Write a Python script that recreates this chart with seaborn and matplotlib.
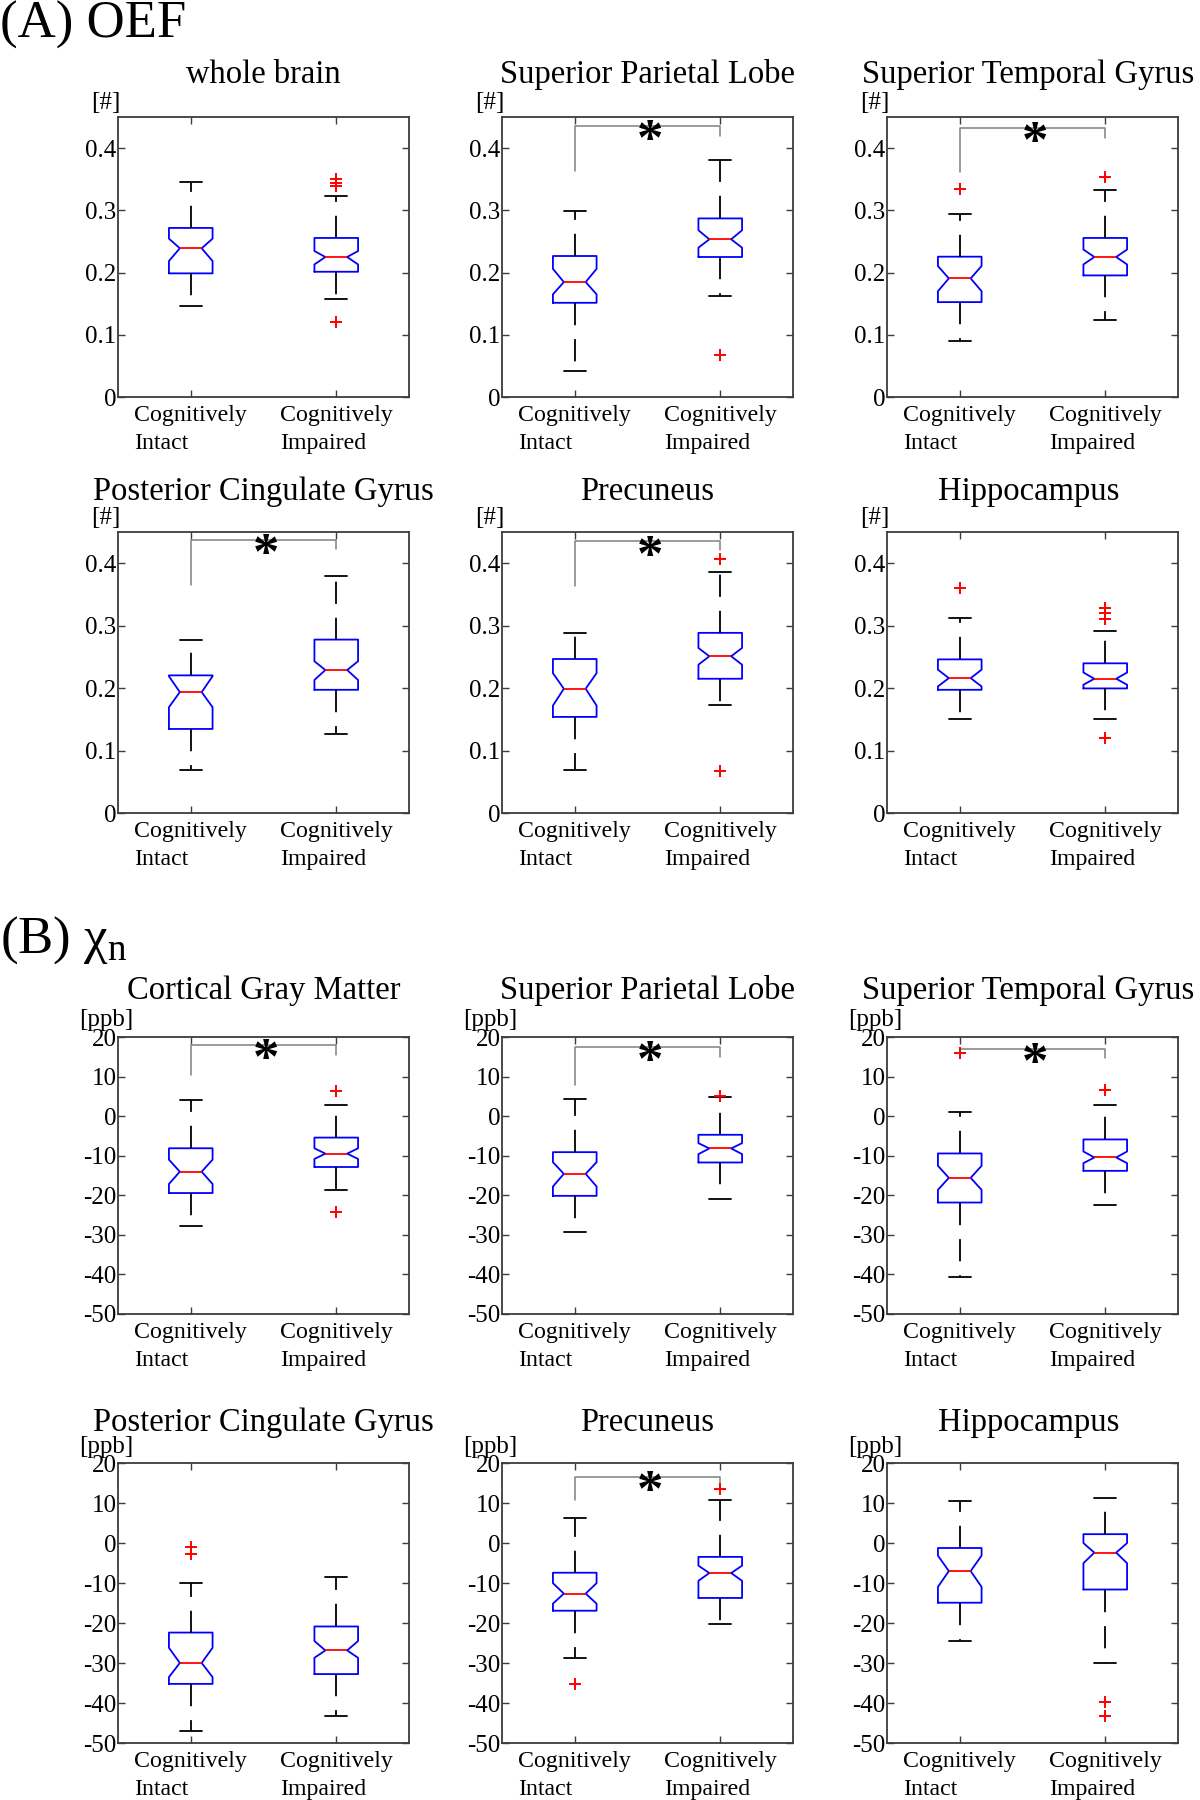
import matplotlib
matplotlib.use("Agg")
import matplotlib.pyplot as plt
import seaborn as sns

# ---------------- data ----------------
titles = ["whole brain", "Superior Parietal Lobe", "Superior Temporal Gyrus",
          "Posterior Cingulate Gyrus", "Precuneus", "Hippocampus",
          "Cortical Gray Matter", "Superior Parietal Lobe", "Superior Temporal Gyrus",
          "Posterior Cingulate Gyrus", "Precuneus", "Hippocampus"]
units = ["[#]"] * 6 + ["[ppb]"] * 6
group_labels = ["Cognitively\nIntact", "Cognitively\nImpaired"]
oef_ticks = [0, 0.1, 0.2, 0.3, 0.4]
oef_ticklabels = ["0", "0.1", "0.2", "0.3", "0.4"]
chi_ticks = [-50, -40, -30, -20, -10, 0, 10, 20]
chi_ticklabels = ["-50", "-40", "-30", "-20", "-10", "0", "10", "20"]

# Cognitively intact group
int_whislo = [0.146, 0.0413, 0.0907, 0.0686, 0.0686, 0.1507,
              -27.88, -29.34, -40.72, -47.04, -28.63, -24.4]
int_q1 = [0.1987, 0.1514, 0.1525, 0.1346, 0.1539, 0.1973,
          -19.43, -20.14, -21.83, -35.22, -16.93, -14.93]
int_cilo = [0.2185, 0.165, 0.170, 0.1694, 0.172, 0.2027,
            -17.15, -17.78, -18.63, -33.53, -15.17, -10.97]
int_med = [0.239, 0.1847, 0.1906, 0.1936, 0.199, 0.216,
           -14.03, -14.58, -15.59, -29.99, -12.64, -7.02]
int_cihi = [0.2545, 0.206, 0.2105, 0.219, 0.224, 0.2295,
            -10.99, -11.63, -12.55, -26.19, -10.04, -3.15]
int_q3 = [0.2717, 0.2266, 0.2255, 0.2204, 0.2466, 0.246,
          -8.12, -9.10, -9.43, -22.39, -7.43, -1.25]
int_whishi = [0.3463, 0.299, 0.2948, 0.2772, 0.288, 0.3115,
              3.96, 4.31, 0.94, -9.98, 6.29, 10.6]
int_fliers = [[], [], [0.335], [], [], [0.36],
              [], [], [15.95], [-1.1, -2.7], [-35.19], []]

# Cognitively impaired group
imp_whislo = [0.1568, 0.162, 0.1235, 0.1265, 0.1737, 0.1507,
              -18.59, -20.99, -22.42, -43.24, -20.13, -30.08]
imp_q1 = [0.2013, 0.225, 0.1954, 0.1973, 0.215, 0.1995,
          -12.85, -11.71, -13.82, -32.77, -13.74, -11.63]
imp_cilo = [0.213, 0.240, 0.213, 0.213, 0.2375, 0.2054,
            -10.82, -9.6, -11.88, -28.7, -9.45, -5.04]
imp_med = [0.225, 0.2534, 0.225, 0.229, 0.251, 0.215,
           -9.47, -8.17, -10.45, -26.86, -7.51, -2.41]
imp_cihi = [0.2346, 0.268, 0.237, 0.243, 0.2643, 0.225,
            -8.12, -6.82, -8.93, -24.5, -5.66, -0.02]
imp_q3 = [0.2556, 0.287, 0.2556, 0.2777, 0.2885, 0.2397,
          -5.42, -4.71, -5.89, -20.87, -3.47, 2.21]
imp_whishi = [0.323, 0.381, 0.333, 0.380, 0.386, 0.2917,
              2.94, 4.9, 2.71, -8.46, 10.66, 11.27]
imp_fliers = [[0.35, 0.344, 0.339, 0.1208], [0.068], [0.354], [], [0.4075, 0.0676],
              [0.3287, 0.3196, 0.3099, 0.1206],
              [6.32, -24.16], [5.2], [6.51], [], [13.6], [-39.72, -43.26]]

significant = [False, True, True, True, True, False,
               True, True, True, False, True, False]

# bracket geometry (line level, left foot, right foot) in data units
bracket_geom = {1: (0.436, 0.3635, 0.42), 2: (0.432, 0.361, 0.4156),
                3: (0.437, 0.365, 0.422), 4: (0.435, 0.364, 0.421),
                6: (18.06, 10.3, 15.5), 7: (17.4, 7.8, 14.9),
                8: (17.0, 16.6, 14.6), 10: (16.6, 10.75, 14.3)}

# ---------------- style ----------------
SERIF = "Liberation Serif"
sns.set_theme(style="ticks")
plt.rcParams.update({
    "font.family": "serif",
    "font.serif": [SERIF, "DejaVu Serif"],
    "axes.unicode_minus": False,
    "mathtext.fontset": "custom",
    "mathtext.rm": SERIF,
    "mathtext.it": SERIF + ":italic",
    "mathtext.bf": SERIF + ":bold",
    "lines.scale_dashes": False,
    "text.color": "black",
})

W, H = 1200, 1800
fig = plt.figure(figsize=(12, 18), dpi=100)
fig.patch.set_facecolor("white")

col_left = [118, 502, 887]
ax_w = 291
row_top = [117, 532, 1037, 1463]
row_bot = [397, 813, 1314, 1743]
title_gap = [34, 32, 38, 32]
unit_gap = [8, 8, 11, 10]
title_dx = [0, 0, -4]

spine_col = "#3c3c3c"

for i in range(12):
    r, c = divmod(i, 3)
    L, T, B = col_left[c], row_top[r], row_bot[r]
    ax = fig.add_axes([L / W, 1 - B / H, ax_w / W, (B - T) / H])
    ax.set_facecolor("white")

    stats = [
        dict(med=int_med[i], q1=int_q1[i], q3=int_q3[i], whislo=int_whislo[i],
             whishi=int_whishi[i], cilo=int_cilo[i], cihi=int_cihi[i], fliers=[]),
        dict(med=imp_med[i], q1=imp_q1[i], q3=imp_q3[i], whislo=imp_whislo[i],
             whishi=imp_whishi[i], cilo=imp_cilo[i], cihi=imp_cihi[i], fliers=[]),
    ]
    ax.bxp(stats, positions=[1, 2], widths=0.3, capwidths=0.15,
           shownotches=True, showfliers=False, manage_ticks=False,
           boxprops=dict(color="blue", linewidth=1.3),
           medianprops=dict(color="red", linewidth=1.3),
           whiskerprops=dict(color="black", linewidth=1.3, linestyle=(0, (16, 10))),
           capprops=dict(color="black", linewidth=1.3))

    fx = [1] * len(int_fliers[i]) + [2] * len(imp_fliers[i])
    fy = list(int_fliers[i]) + list(imp_fliers[i])
    if fy:
        sns.scatterplot(x=fx, y=fy, marker="+", color="red", s=70,
                        linewidth=1.4, ax=ax, legend=False, zorder=4)

    if significant[i]:
        yl, lb, rb = bracket_geom[i]
        ax.plot([1, 1, 2, 2], [lb, yl, yl, rb], color="#808080", lw=1.1, zorder=1)
        ax.annotate("*", xy=(1.52, yl), xytext=(0, -21), textcoords="offset points",
                    ha="center", va="baseline", fontsize=38, fontweight="bold",
                    color="black", fontfamily=SERIF)

    ax.set_xlim(0.5, 2.5)
    if i < 6:
        ax.set_ylim(0, 0.45)
        ax.set_yticks(oef_ticks)
        ax.set_yticklabels(oef_ticklabels, fontfamily=SERIF, fontsize=18)
    else:
        ax.set_ylim(-50, 20)
        ax.set_yticks(chi_ticks)
        ax.set_yticklabels(chi_ticklabels, fontfamily=SERIF, fontsize=18)
    ax.set_xticks([1, 2])
    ax.set_xticklabels(group_labels, multialignment="left", linespacing=1.42,
                       fontfamily=SERIF, fontsize=17.2)
    ax.set_xlabel("")
    ax.set_ylabel("")

    ax.tick_params(axis="both", direction="in", length=5, width=1.0, color=spine_col,
                   top=True, right=True, labelcolor="black")
    ax.tick_params(axis="y", pad=1)
    ax.tick_params(axis="x", pad=6)
    for sp in ax.spines.values():
        sp.set_visible(True)
        sp.set_color(spine_col)
        sp.set_linewidth(1.3)

    fig.text((L + ax_w / 2 + title_dx[c]) / W, 1 - (T - title_gap[r]) / H, titles[i],
             ha="center", va="baseline", fontsize=23.5, fontfamily=SERIF)
    fig.text((L - 12) / W, 1 - (T - unit_gap[r]) / H, units[i],
             ha="center", va="baseline", fontsize=18, fontfamily=SERIF)

fig.text(0.0, 1 - 38 / H, "(A) OEF", ha="left", va="baseline", fontsize=38,
         fontfamily=SERIF)
fig.text(0.0, 1 - 953 / H, r"(B) $\mathrm{\chi}_{\mathrm{n}}$", ha="left",
         va="baseline", fontsize=38, fontfamily=SERIF)

fig.savefig("out.png", dpi=100, facecolor="white")
